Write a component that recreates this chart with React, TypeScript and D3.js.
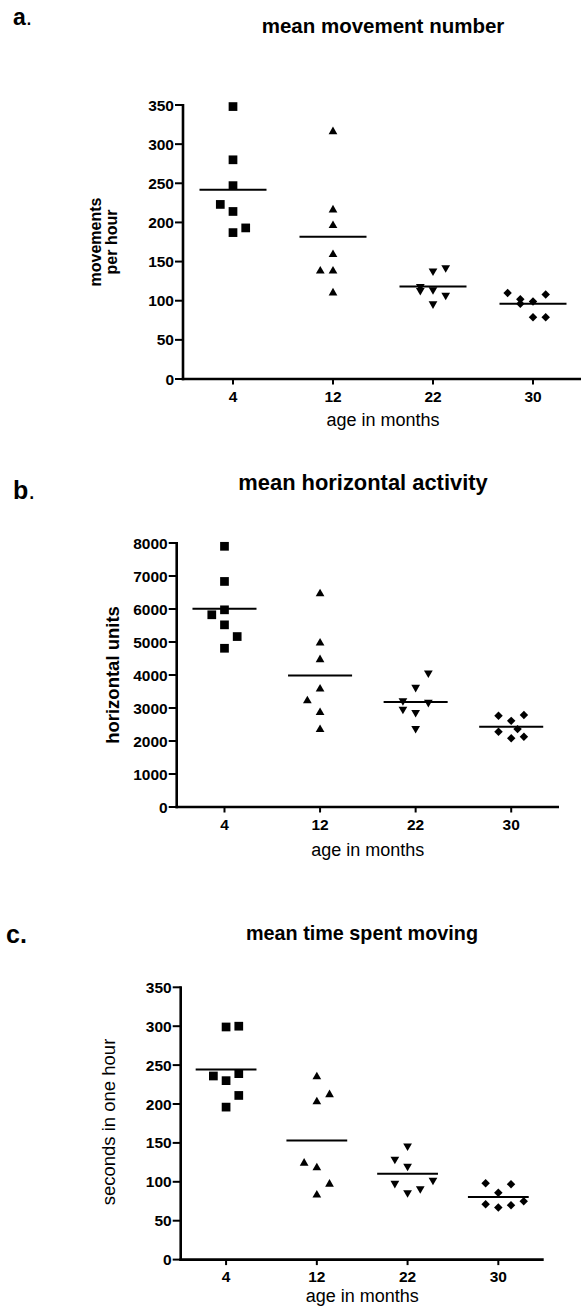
import React from 'react';
import * as d3 from 'd3';

// x categories (age in months)
const ages = ['4', '12', '22', '30'];

// a. mean movement number (movements per hour)
const move4 = [348, 280, 247, 223, 214, 193, 187];
const move12 = [316, 216, 196, 159, 138, 138, 110];
const move22 = [142, 138, 118, 113, 114, 107, 96];
const move30 = [110, 108, 102, 99, 96, 79, 79];
// scatter column of each point (0 = centre, -1 left, 1 right ...)
const move4Dodge = [0, 0, 0, -1, 0, 1, 0];
const move12Dodge = [0, 0, 0, 0, -1, 0, 0];
const move22Dodge = [1, 0, -1, -1, 0, 1, 0];
const move30Dodge = [-2, 1, -1, 0, -1, 0, 1];
const moveTicks = [0, 50, 100, 150, 200, 250, 300, 350];

// b. mean horizontal activity (horizontal units)
const horiz4 = [7900, 6835, 5975, 5825, 5520, 5165, 4810];
const horiz12 = [6460, 4970, 4465, 3575, 3220, 2865, 2350];
const horiz22 = [4060, 3625, 3220, 3170, 2965, 2865, 2380];
const horiz30 = [2785, 2765, 2610, 2360, 2282, 2130, 2082];
const horiz4Dodge = [0, 0, 0, -1, 0, 1, 0];
const horiz12Dodge = [0, 0, 0, 0, -1, 0, 0];
const horiz22Dodge = [1, 0, -1, 1, -1, 0, 0];
const horiz30Dodge = [1, -1, 0, 0.5, -1, 1, 0];
const horizTicks = [0, 1000, 2000, 3000, 4000, 5000, 6000, 7000, 8000];

// c. mean time spent moving (seconds in one hour)
const time4 = [300, 299, 239, 236, 230, 211, 196];
const time12 = [235, 212, 203, 124, 118, 97, 83];
const time22 = [146, 129, 120, 102, 98, 91, 86];
const time30 = [98, 97, 86, 75, 71, 70, 67];
const time4Dodge = [1, 0, 1, -1, 0, 1, 0];
const time12Dodge = [0, 1, 0, -1, 0, 1, 0];
const time22Dodge = [0, -1, 0, 2, -1, 1, 0];
const time30Dodge = [-1, 1, 0, 2, -1, 1, 0];
const timeTicks = [0, 50, 100, 150, 200, 250, 300, 350];

const FONT = '"Liberation Sans", Arial, Helvetica, sans-serif';

const squarePath = d3.symbol().type(d3.symbolSquare).size(76)() || '';
const trianglePath = d3.symbol().type(d3.symbolTriangle).size(33)() || '';
const diamondPath = d3.symbol().type(d3.symbolSquare).size(36)() || '';
const markers = [
  { d: squarePath, rot: 0 },
  { d: trianglePath, rot: 0 },
  { d: trianglePath, rot: 180 },
  { d: diamondPath, rot: 45 },
];

const panels = [
  {
    letter: 'a', boldDot: false, letterX: 13, letterY: 25, letterSize: 23,
    title: 'mean movement number', titleX: 383, titleY: 33, titleSize: 20.5,
    yLabel: ['movements', 'per hour'], yLabelX: [101, 117], yLabelY: 242,
    yLabelSize: 16, yLabelBold: true,
    x0: 183, x1: 583, yTop: 105, yBottom: 379, xTitleDy: 47,
    ticks: moveTicks,
    groups: [move4, move12, move22, move30],
    dodges: [move4Dodge, move12Dodge, move22Dodge, move30Dodge],
  },
  {
    letter: 'b', boldDot: false, letterX: 13, letterY: 499, letterSize: 25,
    title: 'mean horizontal activity', titleX: 363, titleY: 490, titleSize: 21.9,
    yLabel: ['horizontal units'], yLabelX: [119], yLabelY: 675,
    yLabelSize: 18.5, yLabelBold: true,
    x0: 176.7, x1: 559, yTop: 543, yBottom: 807, xTitleDy: 49,
    ticks: horizTicks,
    groups: [horiz4, horiz12, horiz22, horiz30],
    dodges: [horiz4Dodge, horiz12Dodge, horiz22Dodge, horiz30Dodge],
  },
  {
    letter: 'c', boldDot: true, letterX: 6, letterY: 943, letterSize: 25,
    title: 'mean time spent moving', titleX: 362, titleY: 940, titleSize: 19.8,
    yLabel: ['seconds in one hour'], yLabelX: [115], yLabelY: 1122,
    yLabelSize: 18.5, yLabelBold: false,
    x0: 180.7, x1: 543.7, yTop: 987.3, yBottom: 1259.6, xTitleDy: 42,
    ticks: timeTicks,
    groups: [time4, time12, time22, time30],
    dodges: [time4Dodge, time12Dodge, time22Dodge, time30Dodge],
  },
];

type Panel = typeof panels[number];

const ScatterPanel: React.FC<{ p: Panel }> = ({ p }) => {
  const x = d3.scaleBand<string>().domain(ages).range([p.x0, p.x1]).padding(0);
  const step = x.bandwidth();
  const yMax = p.ticks[p.ticks.length - 1];
  const y = d3.scaleLinear().domain([0, yMax]).range([p.yBottom, p.yTop]);
  const dodge = d3.scaleLinear().domain([-1, 1]).range([-12.7, 12.7]);
  const cx = (a: string) => (x(a) || 0) + step / 2;
  const meanHalf = step * 0.335;

  return (
    <g>
      {/* panel letter */}
      <text x={p.letterX} y={p.letterY} fontSize={p.letterSize} fontWeight="bold" fontFamily={FONT}>
        {p.letter}
        <tspan fontWeight={p.boldDot ? 'bold' : 'normal'}>.</tspan>
      </text>

      {/* title */}
      <text x={p.titleX} y={p.titleY} fontSize={p.titleSize} fontWeight="bold"
        textAnchor="middle" fontFamily={FONT}>{p.title}</text>

      {/* y axis label */}
      {p.yLabel.map((line, i) => (
        <text key={line}
          transform={`translate(${p.yLabelX[i]},${p.yLabelY}) rotate(-90)`}
          fontSize={p.yLabelSize} fontWeight={p.yLabelBold ? 'bold' : 'normal'}
          textAnchor="middle" fill="#000" fontFamily={FONT}>{line}</text>
      ))}

      {/* y axis */}
      <line x1={p.x0} x2={p.x0} y1={y(0) + 1.3} y2={y(yMax) - 1} stroke="#000" strokeWidth={2.6} />
      {p.ticks.map(t => (
        <g key={t}>
          <line x1={p.x0 - 8} x2={p.x0} y1={y(t)} y2={y(t)} stroke="#000" strokeWidth={2} />
          <text x={p.x0 - 9} y={y(t)} dy="0.36em" textAnchor="end" fontSize={15.5}
            fontWeight="bold" fontFamily={FONT}>{t}</text>
        </g>
      ))}

      {/* x axis */}
      <line x1={p.x0 - 1.3} x2={p.x1} y1={y(0)} y2={y(0)} stroke="#000" strokeWidth={2.6} />
      {ages.map(a => (
        <g key={a}>
          <line x1={cx(a)} x2={cx(a)} y1={y(0)} y2={y(0) + 5.5} stroke="#000" strokeWidth={2} />
          <text x={cx(a)} y={y(0) + 22.5} textAnchor="middle" fontSize={15.5}
            fontWeight="bold" fontFamily={FONT}>{a}</text>
        </g>
      ))}
      <text x={(p.x0 + p.x1) / 2} y={y(0) + p.xTitleDy} textAnchor="middle" fontSize={18}
        fontFamily={FONT}>age in months</text>

      {/* points and means */}
      {p.groups.map((vals, gi) => {
        const a = ages[gi];
        const m = d3.mean(vals) || 0;
        const mk = markers[gi];
        return (
          <g key={a}>
            {vals.map((v, i) => (
              <path key={i} d={mk.d} fill="#000"
                transform={`translate(${cx(a) + dodge(p.dodges[gi][i])},${y(v)}) rotate(${mk.rot})`} />
            ))}
            <line x1={cx(a) - meanHalf} x2={cx(a) + meanHalf} y1={y(m)} y2={y(m)}
              stroke="#000" strokeWidth={2} />
          </g>
        );
      })}
    </g>
  );
};

export default function App() {
  return (
    <svg width={581} height={1307} viewBox="0 0 581 1307"
      style={{ position: 'absolute', left: 0, top: 0, background: '#fff', display: 'block' }}>
      <rect width={581} height={1307} fill="#fff" />
      {panels.map(p => <ScatterPanel key={p.letter} p={p} />)}
    </svg>
  );
}
